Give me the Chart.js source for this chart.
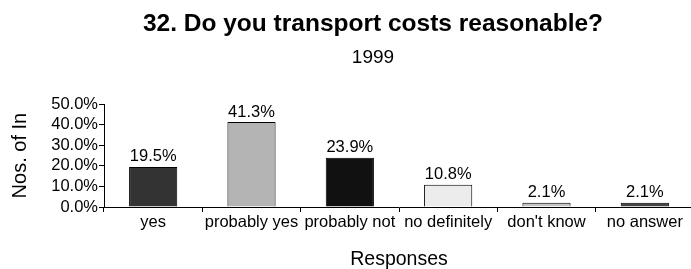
<!DOCTYPE html>
<html>
<head>
<meta charset="utf-8">
<script src="https://cdn.jsdelivr.net/npm/chart.js@4/dist/chart.umd.min.js"></script>
<style>
  html, body { margin: 0; padding: 0; background: #fff; overflow: hidden; }
  #wrap { position: absolute; left: 0; top: 0; width: 746px; height: 269px; }
</style>
</head>
<body>
<div id="wrap"><canvas id="respChart" width="746" height="269"></canvas></div>
<script>
// data
const respostas = ['yes', 'probably yes', 'probably not', 'no definitely', "don't know", 'no answer'];
const percentuais = [19.5, 41.3, 23.9, 10.8, 2.1, 2.1];
const yTicks = [0, 10, 20, 30, 40, 50];

const barColors = ['#333333', '#b4b4b4', '#111111', '#ececec', '#c4c4c4', '#454545'];
const fonte = '"Liberation Sans", Arial, Helvetica, sans-serif';

// labels above each bar
const rotulosBarras = {
    id: 'rotulosBarras',
    afterDatasetsDraw(chart) {
        const c = chart.ctx;
        const meta = chart.getDatasetMeta(0);
        c.save();
        c.font = '16.5px ' + fonte;
        c.fillStyle = '#000';
        c.textAlign = 'center';
        c.textBaseline = 'alphabetic';
        meta.data.forEach((bar, i) => {
            c.fillText(percentuais[i].toFixed(1) + '%', bar.x, bar.y - 5.5);
        });
        c.restore();
    }
};

const ctx = document.getElementById('respChart').getContext('2d');

new Chart(ctx, {
    type: 'bar',
    data: {
        labels: respostas,
        datasets: [{
            data: percentuais,
            backgroundColor: barColors,
            borderColor: '#000',
            borderWidth: 1,
            categoryPercentage: 1,
            barPercentage: 0.49
        }]
    },
    options: {
        responsive: false,
        animation: false,
        layout: { padding: 0 },
        plugins: {
            legend: { display: false },
            tooltip: { enabled: false },
            title: {
                display: true,
                text: '32. Do you transport costs reasonable?',
                color: '#000',
                font: { family: fonte, size: 24.5, weight: 'bold', lineHeight: 1.2 },
                padding: { top: 10, bottom: 0 }
            },
            subtitle: {
                display: true,
                text: '1999',
                color: '#000',
                font: { family: fonte, size: 19, lineHeight: 1.2 },
                padding: { top: 7, bottom: 35 }
            }
        },
        scales: {
            x: {
                afterFit(scale) { scale.height = 62; },
                grid: {
                    offset: true,
                    drawOnChartArea: false,
                    drawTicks: true,
                    tickLength: 5,
                    color: '#000'
                },
                border: { color: '#000', width: 1 },
                ticks: {
                    color: '#000',
                    font: { family: fonte, size: 16.5 },
                    autoSkip: false,
                    maxRotation: 0,
                    minRotation: 0,
                    padding: 1
                },
                title: {
                    display: true,
                    text: 'Responses',
                    color: '#000',
                    font: { family: fonte, size: 19.5, lineHeight: 1 },
                    padding: { top: 0, bottom: 0 }
                }
            },
            y: {
                min: 0,
                max: 50,
                afterFit(scale) { scale.width = 104; },
                afterBuildTicks(scale) { scale.ticks = yTicks.map(v => ({ value: v })); },
                grid: {
                    drawOnChartArea: false,
                    drawTicks: true,
                    tickLength: 5,
                    color: '#000'
                },
                border: { color: '#000', width: 1 },
                ticks: {
                    color: '#000',
                    font: { family: fonte, size: 16.5 },
                    autoSkip: false,
                    padding: 1,
                    callback: v => v.toFixed(1) + '%'
                },
                title: {
                    display: true,
                    text: 'Nos. of In',
                    color: '#000',
                    font: { family: fonte, size: 20, lineHeight: 1.2 },
                    padding: { top: 8, bottom: 0 }
                }
            },
            // empty space on the right, beyond the visible picture
            espaco: {
                type: 'linear',
                position: 'right',
                afterFit(scale) { scale.width = 52; },
                grid: { display: false },
                border: { display: false },
                ticks: { display: false }
            }
        }
    },
    plugins: [rotulosBarras]
});
</script>
</body>
</html>
